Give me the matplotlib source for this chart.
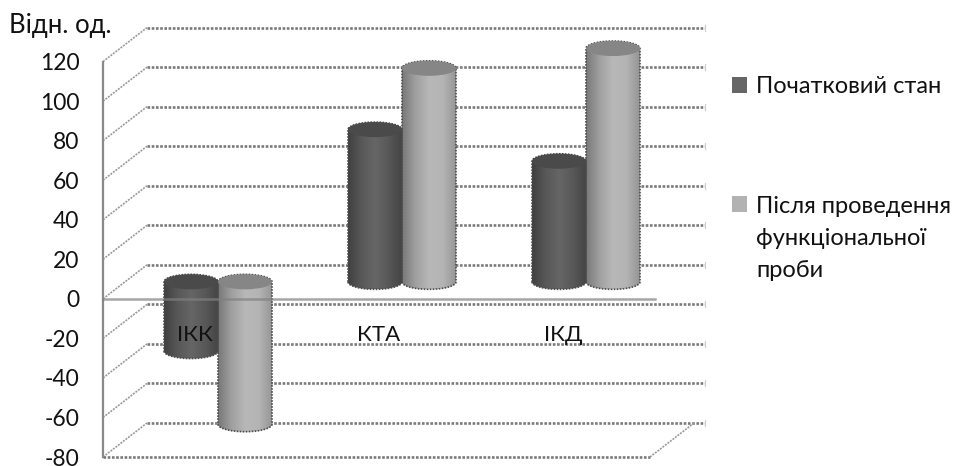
import numpy as np
import matplotlib
matplotlib.use('Agg')
import matplotlib.pyplot as plt
from matplotlib.colors import LinearSegmentedColormap
from matplotlib.patches import Ellipse, Polygon, Rectangle

plt.rcParams['font.family'] = ['Lato', 'Open Sans', 'DejaVu Sans']
plt.rcParams['axes.unicode_minus'] = False

categories = ['ІКК', 'КТА', 'ІКД']
start_values = [-35, 77, 61]
after_values = [-72, 108, 118]
y_ticks = [120, 100, 80, 60, 40, 20, 0, -20, -40, -60, -80]
legend_labels = ['Початковий стан', 'Після проведення\nфункціональної\nпроби']

W, H = 955, 466
fig = plt.figure(figsize=(W / 100, H / 100), dpi=100)
# axes box is the front face of the 3D plot box
left, right, top, bottom = 103, 650, 61.6, 457
ax = fig.add_axes([left / W, 1 - bottom / H, (right - left) / W, (bottom - top) / H])
ax.set_ylim(-80, 120)
cat_px = 184.0
ax.set_xlim((left - 218) / cat_px, (right - 218) / cat_px)

unit_y = (bottom - top) / 200
depth_x = 44 / cat_px
depth_y = 34 / unit_y
x0, x1 = ax.get_xlim()
end_x = x1 + 55 / cat_px

grid_style = dict(color='#7a7a7a', lw=1.9, ls=(0, (1, 0.6)), zorder=1, clip_on=False)
wall_style = dict(color='#9a9a9a', lw=1.2, ls=(0, (1.2, 0.7)), zorder=1, clip_on=False)
for v in y_ticks:
    ax.plot([x0, x0 + depth_x], [v, v + depth_y], **wall_style)
    ax.plot([x0 + depth_x, end_x], [v + depth_y, v + depth_y], **grid_style)
    ax.plot([end_x, end_x], [v + depth_y - 1.5, v + depth_y + 1.5], color='#cccccc',
            lw=0.8, zorder=1, clip_on=False)

# floor edges
ax.plot([x0, x1], [-80, -80], **grid_style)
ax.plot([x1, x1 + depth_x], [-80, -80 + depth_y], **wall_style)

dark_cmap = LinearSegmentedColormap.from_list('dark', ['#404040', '#585858', '#666666', '#585858', '#444444'])
light_cmap = LinearSegmentedColormap.from_list('light', ['#787878', '#a0a0a0', '#b8b8b8', '#b4b4b4', '#949494'])
ramp = np.linspace(0, 1, 256).reshape(1, -1)


def cylinder(xc, half_w, value, cmap, cap):
    # body runs from the zero plane, at mid depth, to the value
    mid = depth_y / 2
    hi = mid + max(value, 0)
    lo = mid + min(value, 0)
    ry = 7.5 / unit_y
    t = np.linspace(np.pi, 2 * np.pi, 60)
    lower = np.column_stack([xc + half_w * np.cos(t), lo + ry * np.sin(t)])
    upper = np.column_stack([xc - half_w * np.cos(t), hi - ry * np.sin(t)])
    body = Polygon(np.vstack([lower, upper]), closed=True, fc='none', ec='none')
    ax.add_patch(body)
    body.set_clip_on(False)
    im = ax.imshow(ramp, cmap=cmap, aspect='auto', zorder=3,
                   extent=[xc - half_w, xc + half_w, lo - ry, hi + ry])
    im.set_clip_box(fig.bbox)
    im.set_clip_path(body)
    outline = np.vstack([lower, upper, lower[:1]])
    ax.plot(outline[:, 0], outline[:, 1], color='#4a4a4a', lw=1.2,
            ls=(0, (1, 0.8)), zorder=4, clip_on=False)
    ax.add_patch(Ellipse((xc, hi), 2 * half_w, 2 * ry, fc=cap, ec='none', zorder=4, clip_on=False))


half_w = 27 / cat_px
for i in range(len(categories)):
    cylinder(i - half_w, half_w, start_values[i], dark_cmap, '#4a4a4a')
    cylinder(i + half_w, half_w, after_values[i], light_cmap, '#868686')
    ax.text(i - 23 / cat_px, -18.3, categories[i], fontsize=16, ha='center', va='center',
            color='#111111', zorder=6)

ax.set_xlim(x0, x1)
ax.set_ylim(-80, 120)

# zero plane front edge sits over the bars
ax.plot([x0, x1 + 5 / cat_px], [0, 0], color='#808080', lw=1.8, alpha=0.7, zorder=5, clip_on=False)

ax.patch.set_alpha(0)
for name in ['top', 'right', 'bottom']:
    ax.spines[name].set_visible(False)
ax.spines['left'].set_color('#8a8a8a')
ax.spines['left'].set_linewidth(1.6)
ax.spines['left'].set_linestyle((0, (1, 0.9)))
ax.set_xticks([])
ax.set_yticks(y_ticks)
ax.tick_params(axis='y', length=0, pad=17, labelsize=16.5, labelcolor='#111111')
for lab in ax.get_yticklabels():
    lab.set_verticalalignment('center_baseline')

fig.text(9 / W, 1 - 26 / H, 'Відн. од.', fontsize=18.5, va='center', ha='left', color='#111111')

# legend
for y0, color, label, ty in [(77, '#666666', legend_labels[0], 89), (196, '#b2b2b2', legend_labels[1], 209)]:
    fig.patches.append(Rectangle((732 / W, 1 - (y0 + 16) / H), 15 / W, 16 / H, fc=color, ec='none',
                                 transform=fig.transFigure, figure=fig))
    fig.text(756 / W, 1 - (ty - 13) / H, label, fontsize=17, va='top', ha='left', color='#111111',
             linespacing=1.65)

fig.savefig('out.png', dpi=100, facecolor='white')
